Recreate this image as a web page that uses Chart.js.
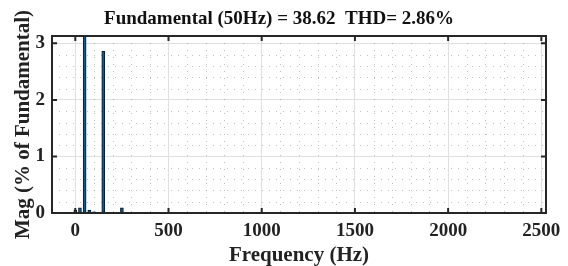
<!DOCTYPE html>
<html>
<head>
<meta charset="utf-8">
<script src="https://cdn.jsdelivr.net/npm/chart.js@4"></script>
<style>
    html, body { margin: 0; padding: 0; background: #fff; }
    #wrap { width: 568px; height: 266px; }
</style>
</head>
<body>
<div id="wrap"><canvas id="fftChart" width="568" height="266"></canvas></div>
<script>
// --- Data ---
const freqHz = [0, 25, 50, 75, 100, 150, 250];
const magPct = [0.05, 0.09, 100, 0.05, 0.02, 2.86, 0.09];
const xTickValues = [0, 500, 1000, 1500, 2000, 2500];
const yTickValues = [0, 1, 2, 3];
const titleText = 'Fundamental (50Hz) = 38.62  THD= 2.86%';

const serifFamily = "'Liberation Serif', 'Times New Roman', serif";
const serifBold = { family: serifFamily, weight: 'bold' };

// --- Plot area box, dotted minor grid, inward ticks and title (MATLAB look) ---
const matlabAxes = {
    id: 'matlabAxes',
    beforeDatasetsDraw(chart) {
        const { ctx, chartArea: a, scales: { x, y } } = chart;
        ctx.save();
        ctx.strokeStyle = 'rgba(140,140,140,0.55)';
        ctx.lineWidth = 1;
        ctx.setLineDash([1, 6]);
        for (let v = 100; v < 2525; v += 100) {
            if (v % 500 === 0) continue;
            const px = Math.round(x.getPixelForValue(v)) + 0.5;
            ctx.beginPath(); ctx.moveTo(px, a.top); ctx.lineTo(px, a.bottom); ctx.stroke();
        }
        for (let v = 0.2; v < 3.13; v += 0.2) {
            if (Math.abs(v - Math.round(v)) < 1e-6) continue;
            const py = Math.round(y.getPixelForValue(v)) + 0.5;
            ctx.beginPath(); ctx.moveTo(a.left, py); ctx.lineTo(a.right, py); ctx.stroke();
        }
        ctx.restore();
    },
    afterDraw(chart) {
        const { ctx, chartArea: a, scales: { x, y } } = chart;
        ctx.save();
        ctx.strokeStyle = '#262626';
        ctx.lineWidth = 2;
        ctx.strokeRect(a.left, a.top, a.right - a.left, a.bottom - a.top);
        const len = 5;
        xTickValues.forEach(v => {
            const px = x.getPixelForValue(v);
            ctx.beginPath();
            ctx.moveTo(px, a.bottom); ctx.lineTo(px, a.bottom - len);
            ctx.moveTo(px, a.top); ctx.lineTo(px, a.top + len);
            ctx.stroke();
        });
        yTickValues.forEach(v => {
            const py = y.getPixelForValue(v);
            ctx.beginPath();
            ctx.moveTo(a.left, py); ctx.lineTo(a.left + len, py);
            ctx.moveTo(a.right, py); ctx.lineTo(a.right - len, py);
            ctx.stroke();
        });
        // title
        ctx.fillStyle = '#111';
        ctx.font = `bold 19px ${serifFamily}`;
        ctx.textAlign = 'center';
        ctx.textBaseline = 'alphabetic';
        ctx.fillText(titleText, 279, 24);
        ctx.restore();
    }
};

const ctx = document.getElementById('fftChart').getContext('2d');
new Chart(ctx, {
    type: 'bar',
    data: {
        datasets: [{
            data: freqHz.map((f, i) => ({ x: f, y: magPct[i] })),
            backgroundColor: '#0b5c93',
            borderColor: '#0a1a2a',
            borderWidth: 1,
            barThickness: 3,
            borderSkipped: false
        }]
    },
    options: {
        responsive: false,
        animation: false,
        layout: { padding: { left: 0, right: 22, top: 36, bottom: 0 } },
        plugins: {
            legend: { display: false },
            tooltip: { enabled: false },
            title: { display: false }
        },
        scales: {
            x: {
                type: 'linear',
                min: -125,
                max: 2525,
                offset: false,
                afterBuildTicks: s => { s.ticks = xTickValues.map(v => ({ value: v })); },
                afterFit: s => { s.height = 53; },
                grid: { color: '#e0e0e0', offset: false, drawTicks: false, tickLength: 0 },
                border: { display: false },
                ticks: { color: '#222', font: { ...serifBold, size: 19 }, padding: 7, maxRotation: 0,
                         callback: v => String(v) },
                title: { display: true, text: 'Frequency (Hz)', color: '#222', font: { ...serifBold, size: 21 },
                         padding: { top: 4, bottom: -2 } }
            },
            y: {
                min: 0,
                max: 3.13,
                afterBuildTicks: s => { s.ticks = yTickValues.map(v => ({ value: v })); },
                afterFit: s => { s.width = 52; },
                grid: { color: '#e0e0e0', drawTicks: false, tickLength: 0 },
                border: { display: false },
                ticks: { color: '#222', font: { ...serifBold, size: 19 }, padding: 7, callback: v => String(v) },
                title: { display: true, text: 'Mag (% of Fundamental)', color: '#222', font: { ...serifBold, size: 21 },
                         padding: { top: 11, bottom: 0 } }
            }
        }
    },
    plugins: [matlabAxes]
});
</script>
</body>
</html>
